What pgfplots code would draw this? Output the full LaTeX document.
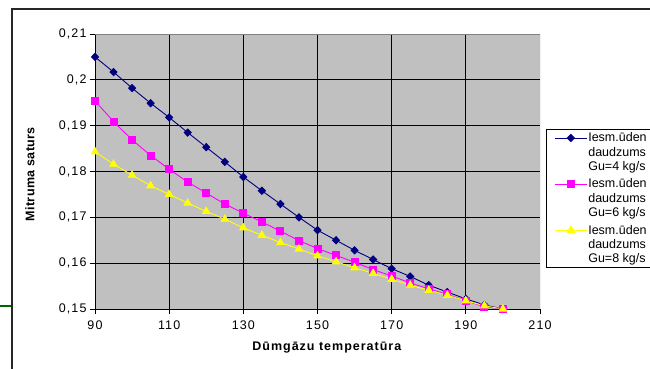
\documentclass[border=0pt]{standalone}
\usepackage{pgfplots}
\pgfplotsset{compat=1.18}
\usepackage{fontspec}
\setmainfont{Liberation Sans}
\newfontfamily\tickfont[LetterSpace=9]{Liberation Sans}
\newfontfamily\xlabfont[LetterSpace=8]{Liberation Sans}
\newfontfamily\ylabfont[LetterSpace=3]{Liberation Sans}
\definecolor{navyc}{RGB}{0,0,128}
\definecolor{magc}{RGB}{255,0,255}
\definecolor{yelc}{RGB}{255,255,0}
\definecolor{plotbg}{RGB}{192,192,192}
\definecolor{bordgray}{RGB}{128,128,128}
\definecolor{grn}{RGB}{0,100,0}
\pgfplotstableread{
x s1 s2 s3
90 0.2050 0.1954 0.1843
95 0.2017 0.1909 0.1816
100 0.1982 0.1869 0.1792
105 0.1949 0.1835 0.1769
110 0.1918 0.1805 0.1750
115 0.1885 0.1777 0.1731
120 0.1853 0.1753 0.1713
125 0.1821 0.1729 0.1696
130 0.1788 0.1709 0.1677
135 0.1758 0.1690 0.1661
140 0.1729 0.1670 0.1645
145 0.1700 0.1649 0.1631
150 0.1672 0.1632 0.1616
155 0.1650 0.1617 0.1603
160 0.1628 0.1602 0.1590
165 0.1608 0.1586 0.1578
170 0.1588 0.1572 0.1565
175 0.1571 0.1557 0.1552
180 0.1552 0.1544 0.1541
185 0.1537 0.1532 0.1530
190 0.1522 0.1518 0.1518
195 0.1509 0.1505 0.1507
200 0.1500 0.1500 0.1500
}\datatab
\begin{document}
\begin{tikzpicture}
\path[use as bounding box] (0pt,0pt) rectangle (650pt,368pt);
\draw[line width=1.4pt, black!85] (12pt,-5pt) -- (12pt,359pt) -- (660pt,359pt);
\draw[line width=2.5pt, grn] (-2pt,62pt) -- (11.4pt,62pt);
\begin{axis}[
  at={(95pt,59pt)}, anchor=south west,
  scale only axis, width=445pt, height=275pt,
  xmin=90, xmax=210, ymin=0.15, ymax=0.21,
  axis lines=left, axis line style={-, black, line width=0.8pt},
  axis background/.style={fill=plotbg},
  xtick={90,110,130,150,170,190},
  extra x ticks={210}, extra x tick style={grid=none},
  ytick={0.15,0.16,0.17,0.18,0.19,0.20},
  yticklabels={{0{,}15},{0{,}16},{0{,}17},{0{,}18},{0{,}19},{0{,}2}},
  extra y ticks={0.21}, extra y tick labels={{0{,}21}}, extra y tick style={grid=none},
  grid=major, major grid style={black, line width=0.8pt},
  tick align=outside, major tick length=5pt,
  tick style={black, line width=0.8pt},
  /pgf/number format/assume math mode=true,
  ticklabel style={font=\tickfont\fontsize{12.5}{14}\selectfont},
  xticklabel style={yshift=-3pt},
  xlabel={Dūmgāzu temperatūra},
  ylabel={Mitruma saturs},
  xlabel style={font=\xlabfont\bfseries\fontsize{12.5}{14}\selectfont, at={(axis description cs:0.521,-0.139)}, anchor=center},
  ylabel style={font=\ylabfont\bfseries\fontsize{12.5}{14}\selectfont, at={(axis description cs:-0.146,0.49)}, anchor=center},
  legend style={at={(axis description cs:1.0135,0.6535)}, anchor=north west,
    draw=black, line width=0.8pt, fill=white, font=\fontsize{12.5}{14.3}\selectfont,
    row sep=5pt, inner xsep=8pt, inner ysep=2pt,
    nodes={align=left, inner sep=1pt, line width=0.8pt}},
  legend cell align=left,
  legend image code/.code={\draw[mark repeat=2,mark phase=2,yshift=14.3pt,#1] plot coordinates {(0pt,0pt) (16pt,0pt) (32pt,0pt)};},
]
\draw[bordgray, line width=0.8pt] (rel axis cs:0,1) -- (rel axis cs:1,1) -- (rel axis cs:1,0);
\addplot[navyc, line width=0.9pt, mark=diamond*, mark size=3.6pt, mark options={fill=navyc, xscale=1.3}] table[x=x,y=s1] {\datatab};
\addplot[magc, line width=0.9pt, mark=square*, mark size=3.5pt, mark options={fill=magc}] table[x=x,y=s2] {\datatab};
\addplot[yelc, line width=0.9pt, mark=triangle*, mark size=4.2pt, mark options={fill=yelc}] table[x=x,y=s3] {\datatab};
\legend{{Iesm.ūden\hspace*{10pt}\\daudzums\\Gu=4 kg/s},{Iesm.ūden\hspace*{10pt}\\daudzums\\Gu=6 kg/s},{Iesm.ūden\hspace*{10pt}\\daudzums\\Gu=8 kg/s}}
\end{axis}
\end{tikzpicture}
\end{document}
